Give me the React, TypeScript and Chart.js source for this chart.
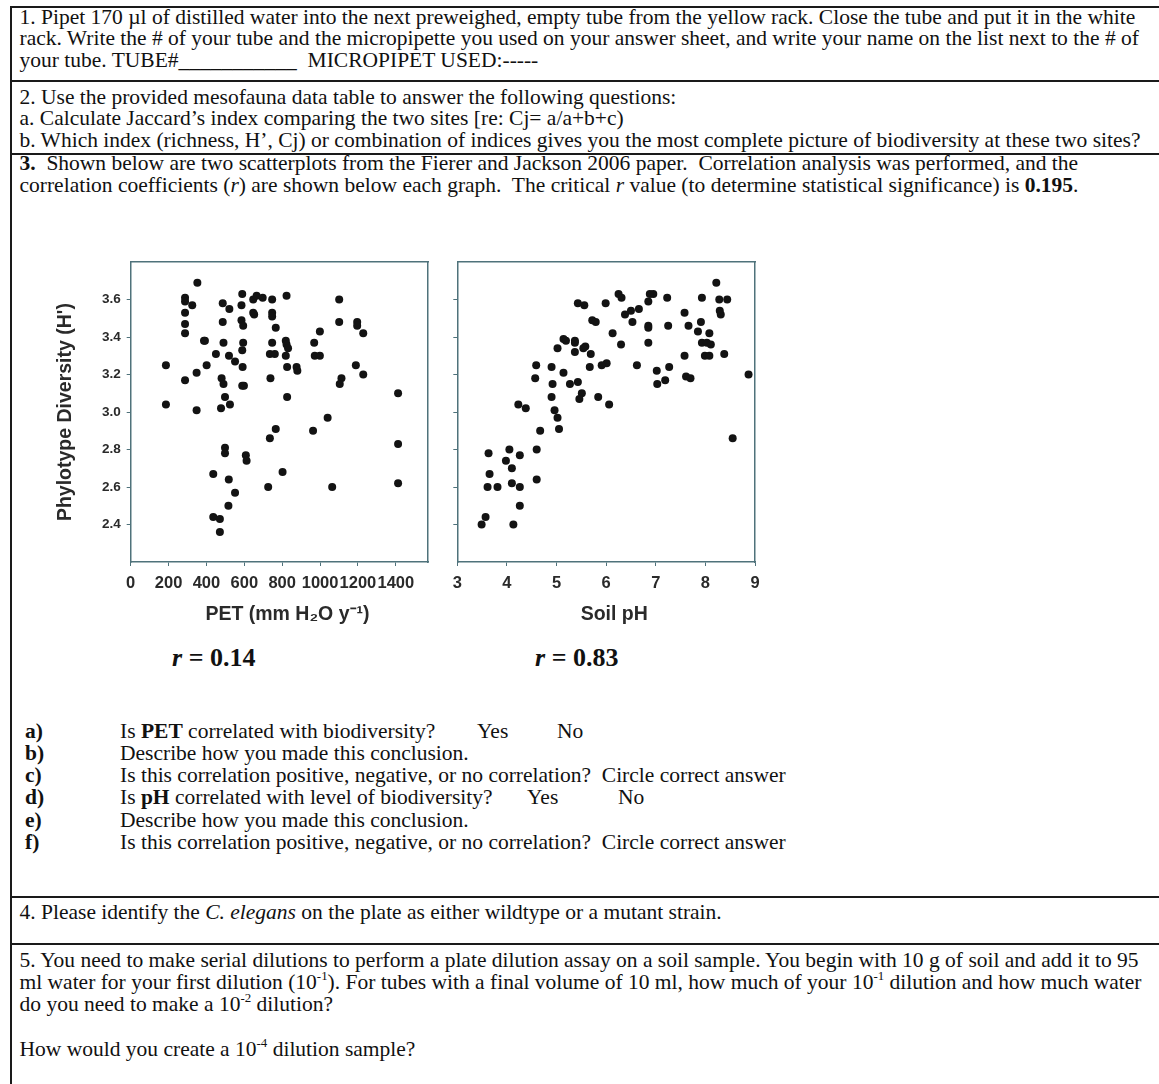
import React, { useEffect, useRef } from "react";
import { Chart, registerables } from "chart.js";

Chart.register(...registerables);

// ---- Data ----
const PET_VALUES = [
  352, 287, 287, 325, 287, 287, 287, 392, 387, 450, 401, 186, 348, 287, 186, 348,
  486, 521, 486, 490, 519, 551, 480, 490, 498, 477, 524,
  589, 585, 585, 594, 594, 589, 591, 589, 598,
  647, 647, 652, 665, 697, 747, 747, 747, 766, 747, 735, 761, 738,
  823, 819, 823, 831, 819, 826, 876, 880, 826,
  969, 972, 999, 999, 1101, 1101, 1196, 1196, 1228, 1189, 1228, 1113, 1104, 1412,
  1040, 963, 766, 735, 498, 498, 608, 612, 436, 802, 518, 551, 726, 1064, 1412, 1412,
  516, 436, 471, 471,
];
const PET_DIVERSITY = [
  3.69, 3.61, 3.59, 3.57, 3.53, 3.47, 3.42, 3.38, 3.38, 3.31, 3.25, 3.25, 3.21, 3.17, 3.04, 3.01,
  3.58, 3.55, 3.48, 3.37, 3.30, 3.27, 3.18, 3.15, 3.08, 3.02, 3.04,
  3.63, 3.57, 3.49, 3.46, 3.37, 3.33, 3.24, 3.14, 3.14,
  3.60, 3.53, 3.52, 3.62, 3.61, 3.60, 3.53, 3.51, 3.45, 3.37, 3.31, 3.31, 3.18,
  3.62, 3.38, 3.36, 3.34, 3.30, 3.24, 3.24, 3.22, 3.08,
  3.37, 3.30, 3.30, 3.43, 3.60, 3.48, 3.48, 3.46, 3.42, 3.25, 3.20, 3.18, 3.15, 3.10,
  2.97, 2.90, 2.91, 2.86, 2.81, 2.78, 2.77, 2.74, 2.67, 2.68, 2.64, 2.57, 2.60, 2.60, 2.83, 2.62,
  2.50, 2.44, 2.43, 2.36,
];

const PH_VALUES = [
  8.22, 7.93, 8.28, 8.44, 8.29, 8.31, 7.58, 7.91, 7.66, 7.85, 8.08, 7.93, 8.03, 8.11, 7.99, 8.08,
  8.38, 7.58, 7.61, 7.70, 8.87, 8.55,
  7.23, 7.25, 6.95, 6.88, 6.85, 6.85, 6.85, 6.85, 6.66, 6.50, 6.38, 6.53, 6.25, 6.31, 5.99, 6.13,
  6.30, 6.01, 5.91, 6.62, 7.02, 7.27, 7.19, 7.03,
  5.43, 5.56, 5.72, 5.79, 5.14, 5.19, 5.37, 5.37, 5.58, 5.54, 5.02, 5.37, 5.69, 5.67, 4.90, 5.14,
  4.92, 5.27, 5.43, 5.51, 5.46, 5.84, 6.06, 4.90, 4.96, 5.02, 5.05,
  4.59, 4.57, 4.23, 4.38, 4.67, 4.60, 4.60,
  3.63, 4.05, 3.98, 4.26, 4.10, 3.65, 3.61, 3.81, 4.10, 4.26, 4.26, 3.57, 3.49, 4.13,
];
const PH_DIVERSITY = [
  3.69, 3.61, 3.60, 3.60, 3.54, 3.52, 3.53, 3.48, 3.46, 3.43, 3.42, 3.37, 3.37, 3.36, 3.30, 3.30,
  3.31, 3.30, 3.19, 3.18, 3.20, 2.86,
  3.61, 3.46, 3.63, 3.63, 3.59, 3.46, 3.45, 3.37, 3.55, 3.54, 3.52, 3.48, 3.63, 3.61, 3.58, 3.42,
  3.36, 3.26, 3.25, 3.25, 3.22, 3.24, 3.17, 3.15,
  3.58, 3.57, 3.49, 3.48, 3.39, 3.38, 3.38, 3.37, 3.35, 3.34, 3.34, 3.32, 3.31, 3.24, 3.24, 3.21,
  3.15, 3.15, 3.16, 3.10, 3.07, 3.08, 3.04, 3.08, 3.01, 2.97, 2.91,
  3.25, 3.18, 3.04, 3.02, 2.90, 2.80, 2.64,
  2.78, 2.80, 2.74, 2.77, 2.70, 2.67, 2.60, 2.60, 2.62, 2.60, 2.50, 2.44, 2.40, 2.40,
];

const PET_TICKS = [0, 200, 400, 600, 800, 1000, 1200, 1400];
const PH_TICKS = [3, 4, 5, 6, 7, 8, 9];
const DIVERSITY_TICKS = [2.4, 2.6, 2.8, 3.0, 3.2, 3.4, 3.6];

// ---- Styles ----
const SANS = '"Liberation Sans", Arial, Helvetica, sans-serif';
const SERIF = '"Liberation Serif", "Times New Roman", serif';
const FRAME = "#4f727b";
const INK = "#131313";
const LABEL = "#2a2a2a";
const FS = 21.5;
const LH = 22;

type Cfg = {
  xs: number[];
  ys: number[];
  xMin: number;
  xMax: number;
  xTicks: number[];
  xTitle: string;
  yTitle: string | null;
  showYLabels: boolean;
  yAxisWidth: number;
  xAxisHeight: number;
  padTop: number;
  padRight: number;
};

function buildConfig(p: Cfg): any {
  return {
    type: "scatter",
    data: {
      datasets: [
        {
          data: p.xs.map((x, i) => ({ x, y: p.ys[i] })),
          backgroundColor: INK,
          borderWidth: 0,
          pointRadius: 4,
          pointHoverRadius: 4,
        },
      ],
    },
    options: {
      animation: false,
      responsive: false,
      events: [],
      layout: { padding: { top: p.padTop, right: p.padRight, left: 0, bottom: 0 }, autoPadding: false },
      plugins: { legend: { display: false }, tooltip: { enabled: false } },
      scales: {
        x: {
          type: "linear",
          position: "bottom",
          min: p.xMin,
          max: p.xMax,
          afterBuildTicks: (s: any) => {
            s.ticks = p.xTicks.map((value) => ({ value }));
          },
          afterFit: (s: any) => {
            s.height = p.xAxisHeight;
          },
          ticks: {
            autoSkip: false,
            maxRotation: 0,
            minRotation: 0,
            padding: 8,
            color: LABEL,
            font: { family: SANS, size: 16.5, weight: "bold" },
            callback: (v: any) => String(v),
          },
          grid: { display: true, drawOnChartArea: false, drawTicks: true, tickLength: 4, color: FRAME, lineWidth: 1 },
          border: { display: true, color: FRAME, width: 1.5 },
          title: {
            display: true,
            text: "   " + p.xTitle,
            color: LABEL,
            font: { family: SANS, size: 19.5, weight: "bold" },
            padding: { top: 0, bottom: 11.5 },
          },
        },
        y: {
          type: "linear",
          position: "left",
          min: 2.2,
          max: 3.8,
          afterBuildTicks: (s: any) => {
            s.ticks = DIVERSITY_TICKS.map((value) => ({ value }));
          },
          afterFit: (s: any) => {
            s.width = p.yAxisWidth;
          },
          ticks: {
            display: true,
            padding: 6,
            color: LABEL,
            font: { family: SANS, size: 13.5, weight: "bold" },
            callback: (v: any) => (p.showYLabels ? Number(v).toFixed(1) : ""),
          },
          grid: { display: true, drawOnChartArea: false, drawTicks: true, tickLength: 4, color: FRAME, lineWidth: 1 },
          border: { display: true, color: FRAME, width: 1.5 },
          title: {
            display: !!p.yTitle,
            text: p.yTitle || "",
            color: LABEL,
            font: { family: SANS, size: 19.5, weight: "bold" },
            padding: { top: 14, bottom: 0 },
          },
        },
        xTop: {
          type: "linear",
          position: "top",
          min: p.xMin,
          max: p.xMax,
          ticks: { display: false },
          grid: { display: false },
          border: { display: true, color: FRAME, width: 1.5 },
          afterFit: (s: any) => {
            s.height = 0;
          },
        },
        yRight: {
          type: "linear",
          position: "right",
          min: 2.2,
          max: 3.8,
          ticks: { display: false },
          grid: { display: false },
          border: { display: true, color: FRAME, width: 1.5 },
          afterFit: (s: any) => {
            s.width = 0;
          },
        },
      },
    },
  };
}

function ScatterPanel(props: { cfg: Cfg; left: number; top: number; width: number; height: number }) {
  const ref = useRef<HTMLCanvasElement | null>(null);
  useEffect(() => {
    if (!ref.current) return;
    const chart = new Chart(ref.current, buildConfig(props.cfg));
    return () => chart.destroy();
  }, []);
  return (
    <canvas
      ref={ref}
      width={props.width}
      height={props.height}
      style={{ position: "absolute", left: props.left, top: props.top, width: props.width, height: props.height }}
    />
  );
}

function Line(props: { y: number; x: number; size?: number; bold?: boolean; children: any }) {
  const size = props.size || FS;
  return (
    <div
      style={{
        position: "absolute",
        left: props.x,
        top: props.y - (LH / 2 + 0.3375 * size),
        whiteSpace: "pre",
        fontFamily: SERIF,
        fontSize: size,
        lineHeight: LH + "px",
        fontWeight: props.bold ? "bold" : "normal",
        color: "#111",
      }}
    >
      {props.children}
    </div>
  );
}

const Sup = (props: { children: any }) => (
  <span style={{ fontSize: "0.6em", position: "relative", top: "-0.7em" }}>{props.children}</span>
);

function HRule(props: { y: number }) {
  return <div style={{ position: "absolute", left: 9.5, top: props.y, width: 1159 - 9.5, height: 2, background: "#1a1a1a" }} />;
}

export default function App() {
  const petCfg: Cfg = {
    xs: PET_VALUES,
    ys: PET_DIVERSITY,
    xMin: 0,
    xMax: 1570,
    xTicks: PET_TICKS,
    xTitle: "PET (mm H\u2082O y\u207B\u00B9)",
    yTitle: "Phylotype Diversity (H')",
    showYLabels: true,
    yAxisWidth: 90.7,
    xAxisHeight: 76,
    padTop: 13.5,
    padRight: 12,
  };
  const phCfg: Cfg = {
    xs: PH_VALUES,
    ys: PH_DIVERSITY,
    xMin: 3,
    xMax: 9,
    xTicks: PH_TICKS,
    xTitle: "Soil pH",
    yTitle: null,
    showYLabels: false,
    yAxisWidth: 17.3,
    xAxisHeight: 76,
    padTop: 13.5,
    padRight: 25,
  };

  const qx = 25;
  const tx = 120;
  return (
    <div style={{ position: "absolute", left: 0, top: 0, width: 1159, height: 1084, overflow: "hidden", background: "#fff" }}>
      {/* table frame */}
      <div style={{ position: "absolute", left: 9.5, top: 6, width: 2, height: 1084 - 6, background: "#1a1a1a" }} />
      <HRule y={6} />
      <HRule y={79.5} />
      <HRule y={153} />
      <HRule y={896} />
      <HRule y={943} />

      {/* section 1 */}
      <Line x={19.5} y={24}>1. Pipet 170 µl of distilled water into the next preweighed, empty tube from the yellow rack. Close the tube and put it in the white</Line>
      <Line x={19.5} y={45.5}>rack. Write the # of your tube and the micropipette you used on your answer sheet, and write your name on the list next to the # of</Line>
      <Line x={19.5} y={67}>your tube. TUBE#___________  MICROPIPET USED:-----</Line>

      {/* section 2 */}
      <Line x={19.5} y={104}>2. Use the provided mesofauna data table to answer the following questions:</Line>
      <Line x={19.5} y={125}>a. Calculate Jaccard’s index comparing the two sites [re: Cj= a/a+b+c)</Line>
      <Line x={19.5} y={147}>b. Which index (richness, H’, Cj) or combination of indices gives you the most complete picture of biodiversity at these two sites?</Line>

      {/* section 3 */}
      <Line x={19.5} y={170}>
        <b>3.</b>  Shown below are two scatterplots from the Fierer and Jackson 2006 paper.  Correlation analysis was performed, and the
      </Line>
      <Line x={19.5} y={192}>
        correlation coefficients (<i>r</i>) are shown below each graph.  The critical <i>r</i> value (to determine statistical significance) is <b>0.195</b>.
      </Line>

      <ScatterPanel cfg={petCfg} left={40} top={248} width={400} height={390} />
      <ScatterPanel cfg={phCfg} left={440} top={248} width={340} height={390} />

      <Line x={172} y={667} size={26} bold>
        <i>r</i> = 0.14
      </Line>
      <Line x={535} y={667} size={26} bold>
        <i>r</i> = 0.83
      </Line>

      <Line x={qx} y={738} bold>a)</Line>
      <Line x={tx} y={738}>Is <b>PET</b> correlated with biodiversity?</Line>
      <Line x={477} y={738}>Yes</Line>
      <Line x={557} y={738}>No</Line>
      <Line x={qx} y={760} bold>b)</Line>
      <Line x={tx} y={760}>Describe how you made this conclusion.</Line>
      <Line x={qx} y={782.5} bold>c)</Line>
      <Line x={tx} y={782.5}>Is this correlation positive, negative, or no correlation?  Circle correct answer</Line>
      <Line x={qx} y={804} bold>d)</Line>
      <Line x={tx} y={804}>Is <b>pH</b> correlated with level of biodiversity?</Line>
      <Line x={527} y={804}>Yes</Line>
      <Line x={618} y={804}>No</Line>
      <Line x={qx} y={827} bold>e)</Line>
      <Line x={tx} y={827}>Describe how you made this conclusion.</Line>
      <Line x={qx} y={849} bold>f)</Line>
      <Line x={tx} y={849}>Is this correlation positive, negative, or no correlation?  Circle correct answer</Line>

      {/* section 4 */}
      <Line x={19.5} y={919.5}>
        4. Please identify the <i>C. elegans</i> on the plate as either wildtype or a mutant strain.
      </Line>

      {/* section 5 */}
      <Line x={19.5} y={967.5}>5. You need to make serial dilutions to perform a plate dilution assay on a soil sample. You begin with 10 g of soil and add it to 95</Line>
      <Line x={19.5} y={989.5}>
        ml water for your first dilution (10<Sup>-1</Sup>). For tubes with a final volume of 10 ml, how much of your 10<Sup>-1</Sup> dilution and how much water
      </Line>
      <Line x={19.5} y={1011.5}>
        do you need to make a 10<Sup>-2</Sup> dilution?
      </Line>
      <Line x={19.5} y={1056.5}>
        How would you create a 10<Sup>-4</Sup> dilution sample?
      </Line>
    </div>
  );
}
